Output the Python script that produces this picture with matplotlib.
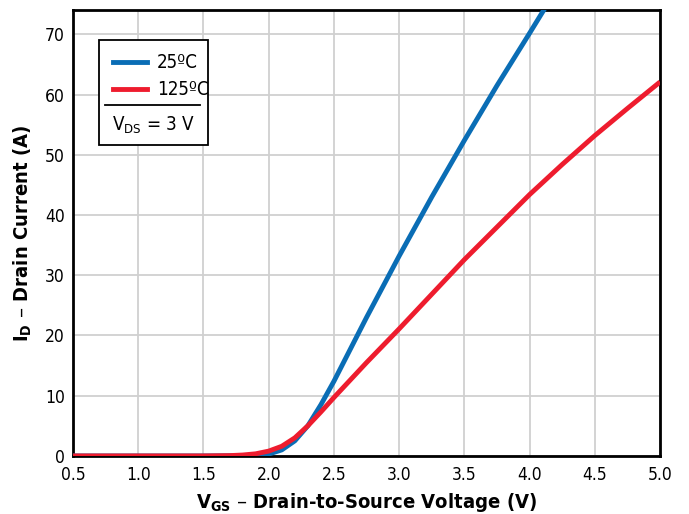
import matplotlib.pyplot as plt
from matplotlib.patches import Rectangle
from matplotlib.lines import Line2D

plt.rcParams['font.family'] = ['DejaVu Sans']
plt.rcParams['font.stretch'] = 'condensed'

vgs = [0.5, 1.0, 1.5, 1.8, 1.9, 2.0, 2.1, 2.2, 2.3, 2.4, 2.5, 2.75, 3.0, 3.25, 3.5, 3.75, 4.0, 4.15]
id_25 = [0, 0, 0, 0.05, 0.1, 0.3, 1.0, 2.5, 5.0, 8.5, 12.4, 23.0, 33.2, 43.0, 52.4, 61.5, 70.2, 75.5]

vgs_hot = [0.5, 1.0, 1.5, 1.7, 1.8, 1.9, 2.0, 2.1, 2.2, 2.3, 2.4, 2.5, 2.75, 3.0, 3.5, 4.0, 4.25, 4.5, 4.75, 5.0]
id_125 = [0, 0, 0, 0.05, 0.15, 0.35, 0.8, 1.6, 3.0, 5.0, 7.3, 9.7, 15.5, 21.1, 32.6, 43.4, 48.4, 53.2, 57.7, 62.1]

xticks = [0.5, 1.0, 1.5, 2.0, 2.5, 3.0, 3.5, 4.0, 4.5, 5.0]
yticks = [0, 10, 20, 30, 40, 50, 60, 70]

blue = '#0a6db5'
red = '#ee1c2e'

fig = plt.figure(figsize=(6.89, 5.14), dpi=100)
ax = fig.add_axes([0.106, 0.113, 0.852, 0.867])

ax.plot(vgs, id_25, color=blue, lw=3.5, solid_capstyle='butt', zorder=3)
ax.plot(vgs_hot, id_125, color=red, lw=3.5, solid_capstyle='butt', zorder=4)

ax.set_xlim(0.5, 5.0)
ax.set_ylim(0, 74)
ax.set_xticks(xticks)
ax.set_xticklabels(['%.1f' % v for v in xticks])
ax.set_yticks(yticks)
ax.tick_params(length=0, labelsize=12.5)
ax.tick_params(axis='x', pad=7)
ax.tick_params(axis='y', pad=6)
ax.grid(color='#d0d0d0', lw=1.3)
ax.set_axisbelow(True)
for s in ax.spines.values():
    s.set_linewidth(2)

ax.set_xlabel(r'V$_{\mathregular{GS}}$ – Drain-to-Source Voltage (V)', fontsize=14.5, fontweight='bold', labelpad=5)
ax.set_ylabel(r'I$_{\mathregular{D}}$ – Drain Current (A)', fontsize=14.5, fontweight='bold', labelpad=8)

# legend box
tr = ax.transAxes
ax.add_patch(Rectangle((0.0443, 0.697), 0.186, 0.236, transform=tr, facecolor='white',
                       edgecolor='black', lw=1.3, zorder=5))
ax.add_line(Line2D([0.068, 0.126], [0.883, 0.883], transform=tr, color=blue, lw=3.5, zorder=6))
ax.add_line(Line2D([0.068, 0.126], [0.823, 0.823], transform=tr, color=red, lw=3.5, zorder=6))
ax.text(0.143, 0.883, '25ºC', transform=tr, fontsize=13.5, va='center', zorder=6)
ax.text(0.143, 0.823, '125ºC', transform=tr, fontsize=13.5, va='center', zorder=6)
ax.add_line(Line2D([0.054, 0.217], [0.788, 0.788], transform=tr, color='black', lw=1.3, zorder=6))
ax.text(0.137, 0.741, r'V$_{\mathregular{DS}}$ = 3 V', transform=tr, fontsize=13.5,
        va='center', ha='center', zorder=6)

fig.savefig('out.png', dpi=100)
